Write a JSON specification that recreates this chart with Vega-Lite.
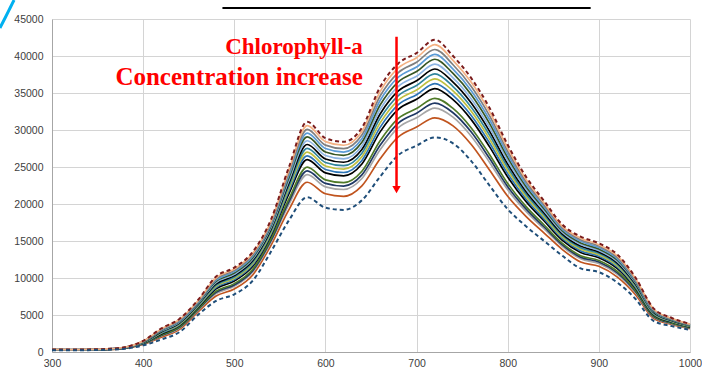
{
  "$schema": "https://vega.github.io/schema/vega-lite/v6.json",
  "width": 638,
  "height": 333,
  "autosize": {"type": "none"},
  "padding": {"left": 52, "top": 19, "right": 12, "bottom": 21},
  "background": "white",
  "config": {
    "view": {"stroke": null},
    "axis": {
      "labelFont": "Liberation Sans",
      "labelFontSize": 10.5,
      "labelColor": "#404040",
      "labelOverlap": false,
      "labelFlush": false,
      "gridColor": "#d4d4d4",
      "gridWidth": 1,
      "domainColor": "#a6a6a6",
      "ticks": false,
      "title": null
    }
  },
  "encoding": {
    "x": {"field": "nm", "type": "quantitative", "scale": {"domain": [300, 1000], "nice": false},
          "axis": {"values": [300,400,500,600,700,800,900,1000], "format": "d", "grid": true, "labelPadding": 6}},
    "y": {"field": "val", "type": "quantitative", "scale": {"domain": [0, 45000], "nice": false},
          "axis": {"values": [0,5000,10000,15000,20000,25000,30000,35000,40000,45000], "format": "d", "grid": true, "labelPadding": 9}}
  },
  "datasets": {
    "spectra": [
      {"nm":300,"top":350,"bot":250,"c20":270,"c30":280,"c35":285,"c40":290,"c50":300,"c55":305,"c60":310,"c65":315,"c70":320,"c75":325,"c80":330,"c85":335,"c90":340,"c95":345},
      {"nm":320,"top":330,"bot":230,"c20":250,"c30":260,"c35":265,"c40":270,"c50":280,"c55":285,"c60":290,"c65":295,"c70":300,"c75":305,"c80":310,"c85":315,"c90":320,"c95":325},
      {"nm":340,"top":350,"bot":250,"c20":270,"c30":280,"c35":285,"c40":290,"c50":300,"c55":305,"c60":310,"c65":315,"c70":320,"c75":325,"c80":330,"c85":335,"c90":340,"c95":345},
      {"nm":360,"top":420,"bot":300,"c20":324,"c30":336,"c35":342,"c40":348,"c50":360,"c55":366,"c60":372,"c65":378,"c70":384,"c75":390,"c80":396,"c85":402,"c90":408,"c95":414},
      {"nm":380,"top":650,"bot":450,"c20":490,"c30":510,"c35":520,"c40":530,"c50":550,"c55":560,"c60":570,"c65":580,"c70":590,"c75":600,"c80":610,"c85":620,"c90":630,"c95":640},
      {"nm":400,"top":1500,"bot":900,"c20":1020,"c30":1080,"c35":1110,"c40":1140,"c50":1200,"c55":1230,"c60":1260,"c65":1290,"c70":1320,"c75":1350,"c80":1380,"c85":1410,"c90":1440,"c95":1470},
      {"nm":420,"top":3200,"bot":1700,"c20":2000,"c30":2150,"c35":2225,"c40":2300,"c50":2450,"c55":2525,"c60":2600,"c65":2675,"c70":2750,"c75":2825,"c80":2900,"c85":2975,"c90":3050,"c95":3125},
      {"nm":440,"top":4500,"bot":2700,"c20":3060,"c30":3240,"c35":3330,"c40":3420,"c50":3600,"c55":3690,"c60":3780,"c65":3870,"c70":3960,"c75":4050,"c80":4140,"c85":4230,"c90":4320,"c95":4410},
      {"nm":460,"top":7000,"bot":5000,"c20":5400,"c30":5600,"c35":5700,"c40":5800,"c50":6000,"c55":6100,"c60":6200,"c65":6300,"c70":6400,"c75":6500,"c80":6600,"c85":6700,"c90":6800,"c95":6900},
      {"nm":480,"top":10200,"bot":6900,"c20":7560,"c30":7890,"c35":8055,"c40":8220,"c50":8550,"c55":8715,"c60":8880,"c65":9045,"c70":9210,"c75":9375,"c80":9540,"c85":9705,"c90":9870,"c95":10035},
      {"nm":500,"top":11400,"bot":7800,"c20":8520,"c30":8880,"c35":9060,"c40":9240,"c50":9600,"c55":9780,"c60":9960,"c65":10140,"c70":10320,"c75":10500,"c80":10680,"c85":10860,"c90":11040,"c95":11220},
      {"nm":520,"top":13500,"bot":9600,"c20":10380,"c30":10770,"c35":10965,"c40":11160,"c50":11550,"c55":11745,"c60":11940,"c65":12135,"c70":12330,"c75":12525,"c80":12720,"c85":12915,"c90":13110,"c95":13305},
      {"nm":540,"top":17800,"bot":13500,"c20":14360,"c30":14790,"c35":15005,"c40":15220,"c50":15650,"c55":15865,"c60":16080,"c65":16295,"c70":16510,"c75":16725,"c80":16940,"c85":17155,"c90":17370,"c95":17585},
      {"nm":560,"top":25000,"bot":17800,"c20":19240,"c30":19960,"c35":20320,"c40":20680,"c50":21400,"c55":21760,"c60":22120,"c65":22480,"c70":22840,"c75":23200,"c80":23560,"c85":23920,"c90":24280,"c95":24640},
      {"nm":580,"top":31100,"bot":20900,"c20":22940,"c30":23960,"c35":24470,"c40":24980,"c50":26000,"c55":26510,"c60":27020,"c65":27530,"c70":28040,"c75":28550,"c80":29060,"c85":29570,"c90":30080,"c95":30590},
      {"nm":600,"top":28900,"bot":19500,"c20":21380,"c30":22320,"c35":22790,"c40":23260,"c50":24200,"c55":24670,"c60":25140,"c65":25610,"c70":26080,"c75":26550,"c80":27020,"c85":27490,"c90":27960,"c95":28430},
      {"nm":620,"top":28400,"bot":19200,"c20":21040,"c30":21960,"c35":22420,"c40":22880,"c50":23800,"c55":24260,"c60":24720,"c65":25180,"c70":25640,"c75":26100,"c80":26560,"c85":27020,"c90":27480,"c95":27940},
      {"nm":640,"top":30300,"bot":20500,"c20":22460,"c30":23440,"c35":23930,"c40":24420,"c50":25400,"c55":25890,"c60":26380,"c65":26870,"c70":27360,"c75":27850,"c80":28340,"c85":28830,"c90":29320,"c95":29810},
      {"nm":660,"top":35800,"bot":23700,"c20":26120,"c30":27330,"c35":27935,"c40":28540,"c50":29750,"c55":30355,"c60":30960,"c65":31565,"c70":32170,"c75":32775,"c80":33380,"c85":33985,"c90":34590,"c95":35195},
      {"nm":680,"top":39000,"bot":26600,"c20":29080,"c30":30320,"c35":30940,"c40":31560,"c50":32800,"c55":33420,"c60":34040,"c65":34660,"c70":35280,"c75":35900,"c80":36520,"c85":37140,"c90":37760,"c95":38380},
      {"nm":700,"top":40400,"bot":27900,"c20":30400,"c30":31650,"c35":32275,"c40":32900,"c50":34150,"c55":34775,"c60":35400,"c65":36025,"c70":36650,"c75":37275,"c80":37900,"c85":38525,"c90":39150,"c95":39775},
      {"nm":720,"top":42200,"bot":29000,"c20":31640,"c30":32960,"c35":33620,"c40":34280,"c50":35600,"c55":36260,"c60":36920,"c65":37580,"c70":38240,"c75":38900,"c80":39560,"c85":40220,"c90":40880,"c95":41540},
      {"nm":740,"top":40000,"bot":28200,"c20":30560,"c30":31740,"c35":32330,"c40":32920,"c50":34100,"c55":34690,"c60":35280,"c65":35870,"c70":36460,"c75":37050,"c80":37640,"c85":38230,"c90":38820,"c95":39410},
      {"nm":760,"top":37000,"bot":25800,"c20":28040,"c30":29160,"c35":29720,"c40":30280,"c50":31400,"c55":31960,"c60":32520,"c65":33080,"c70":33640,"c75":34200,"c80":34760,"c85":35320,"c90":35880,"c95":36440},
      {"nm":780,"top":33000,"bot":22500,"c20":24600,"c30":25650,"c35":26175,"c40":26700,"c50":27750,"c55":28275,"c60":28800,"c65":29325,"c70":29850,"c75":30375,"c80":30900,"c85":31425,"c90":31950,"c95":32475},
      {"nm":800,"top":28000,"bot":19300,"c20":21040,"c30":21910,"c35":22345,"c40":22780,"c50":23650,"c55":24085,"c60":24520,"c65":24955,"c70":25390,"c75":25825,"c80":26260,"c85":26695,"c90":27130,"c95":27565},
      {"nm":820,"top":23700,"bot":17000,"c20":18340,"c30":19010,"c35":19345,"c40":19680,"c50":20350,"c55":20685,"c60":21020,"c65":21355,"c70":21690,"c75":22025,"c80":22360,"c85":22695,"c90":23030,"c95":23365},
      {"nm":840,"top":20400,"bot":15000,"c20":16080,"c30":16620,"c35":16890,"c40":17160,"c50":17700,"c55":17970,"c60":18240,"c65":18510,"c70":18780,"c75":19050,"c80":19320,"c85":19590,"c90":19860,"c95":20130},
      {"nm":860,"top":17200,"bot":13000,"c20":13840,"c30":14260,"c35":14470,"c40":14680,"c50":15100,"c55":15310,"c60":15520,"c65":15730,"c70":15940,"c75":16150,"c80":16360,"c85":16570,"c90":16780,"c95":16990},
      {"nm":880,"top":15600,"bot":11300,"c20":12160,"c30":12590,"c35":12805,"c40":13020,"c50":13450,"c55":13665,"c60":13880,"c65":14095,"c70":14310,"c75":14525,"c80":14740,"c85":14955,"c90":15170,"c95":15385},
      {"nm":900,"top":14700,"bot":10800,"c20":11580,"c30":11970,"c35":12165,"c40":12360,"c50":12750,"c55":12945,"c60":13140,"c65":13335,"c70":13530,"c75":13725,"c80":13920,"c85":14115,"c90":14310,"c95":14505},
      {"nm":920,"top":13200,"bot":9400,"c20":10160,"c30":10540,"c35":10730,"c40":10920,"c50":11300,"c55":11490,"c60":11680,"c65":11870,"c70":12060,"c75":12250,"c80":12440,"c85":12630,"c90":12820,"c95":13010},
      {"nm":940,"top":10100,"bot":7200,"c20":7780,"c30":8070,"c35":8215,"c40":8360,"c50":8650,"c55":8795,"c60":8940,"c65":9085,"c70":9230,"c75":9375,"c80":9520,"c85":9665,"c90":9810,"c95":9955},
      {"nm":960,"top":5900,"bot":4200,"c20":4540,"c30":4710,"c35":4795,"c40":4880,"c50":5050,"c55":5135,"c60":5220,"c65":5305,"c70":5390,"c75":5475,"c80":5560,"c85":5645,"c90":5730,"c95":5815},
      {"nm":980,"top":4600,"bot":3500,"c20":3720,"c30":3830,"c35":3885,"c40":3940,"c50":4050,"c55":4105,"c60":4160,"c65":4215,"c70":4270,"c75":4325,"c80":4380,"c85":4435,"c90":4490,"c95":4545},
      {"nm":1000,"top":3800,"bot":3000,"c20":3160,"c30":3240,"c35":3280,"c40":3320,"c50":3400,"c55":3440,"c60":3480,"c65":3520,"c70":3560,"c75":3600,"c80":3640,"c85":3680,"c90":3720,"c95":3760}
    ],
    "note1": [{"label": "Chlorophyll-a", "nm": 641, "val": 40270}],
    "note2": [{"label": "Concentration increase", "nm": 641, "val": 36080}],
    "arrow": [{"nm": 678, "val": 42600, "val2": 22200}],
    "head": [{"nm": 678, "val": 21950}],
    "deco": [{"nm": 487, "nm2": 891, "val": 46500}],
    "arc": [
      {"nm": 242.9, "val": 43784},
      {"nm": 248.5, "val": 45135},
      {"nm": 254.0, "val": 46486},
      {"nm": 258.4, "val": 47568}
    ]
  },
  "layer": [
    {
      "data": {"name": "spectra"},
      "transform": [{"fold": ["c20","c30","c35","c40","c50","c55","c60","c65","c70","c75","c80","c85","c90","c95"], "as": ["series", "val"]}],
      "mark": {"type": "line", "strokeWidth": 1.7, "interpolate": "monotone"},
      "encoding": {
        "color": {"field": "series", "type": "nominal", "legend": null,
          "scale": {"domain": ["c20","c30","c35","c40","c50","c55","c60","c65","c70","c75","c80","c85","c90","c95","top","bot"],
                    "range": ["#c0541e","#a6a6a6","#1f3864","#4f7a28","#000000","#2e75b6","#bfbf3f","#31859c","#000000","#8db4e2","#375623","#5b9bd5","#7f7f7f","#f4b183","#7b1c1c","#1f4e79"]}}
      }
    },
    {
      "data": {"name": "spectra"},
      "transform": [{"fold": ["top","bot"], "as": ["series", "val"]}],
      "mark": {"type": "line", "strokeWidth": 2, "strokeDash": [4, 3], "interpolate": "monotone"},
      "encoding": {
        "color": {"field": "series", "type": "nominal", "legend": null}
      }
    },
    {
      "data": {"name": "note1"},
      "mark": {"type": "text", "font": "Liberation Serif", "fontWeight": "bold", "fontSize": 23, "color": "#ff0000", "align": "right", "baseline": "alphabetic"},
      "encoding": {"text": {"field": "label"}}
    },
    {
      "data": {"name": "note2"},
      "mark": {"type": "text", "font": "Liberation Serif", "fontWeight": "bold", "fontSize": 25, "color": "#ff0000", "align": "right", "baseline": "alphabetic"},
      "encoding": {"text": {"field": "label"}}
    },
    {
      "data": {"name": "arrow"},
      "mark": {"type": "rule", "color": "#ff0000", "strokeWidth": 2.5},
      "encoding": {"y2": {"field": "val2"}}
    },
    {
      "data": {"name": "head"},
      "mark": {"type": "point", "shape": "triangle-down", "filled": true, "color": "#ff0000", "opacity": 1, "size": 70},
      "encoding": {}
    },
    {
      "data": {"name": "deco"},
      "mark": {"type": "rule", "color": "#000000", "strokeWidth": 2},
      "encoding": {"x2": {"field": "nm2"}}
    },
    {
      "data": {"name": "arc"},
      "mark": {"type": "line", "color": "#00b0f0", "strokeWidth": 3, "interpolate": "monotone"},
      "encoding": {}
    }
  ]
}
